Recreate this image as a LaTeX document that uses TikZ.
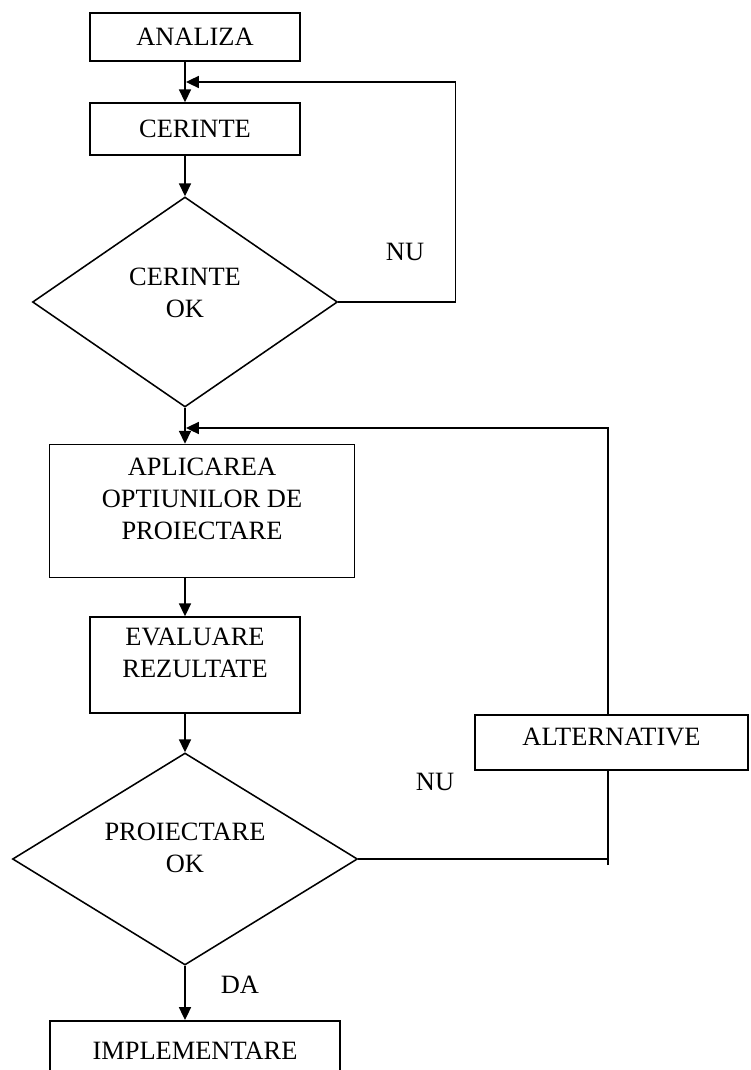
\documentclass[tikz,border=0pt]{standalone}
\usepackage{fontspec}
\setmainfont{Liberation Serif}
\usetikzlibrary{shapes.geometric,arrows.meta}
\begin{document}
\begin{tikzpicture}[x=0.025cm,y=-0.025cm,every node/.style={font=\fontsize{18.8}{22.8}\selectfont},>={Triangle[length=0.32cm,width=0.3cm]},line width=1.1pt]
\tikzset{box/.style={draw,align=center,inner sep=0pt}, test/.style={draw,diamond,inner sep=0pt}, lab/.style={inner sep=0pt,align=center}}
\useasboundingbox (0,0) rectangle (750,1070);
\node[box,minimum width=210*0.025cm,minimum height=48*0.025cm] (analiza) at (195,37) {ANALIZA};
\node[box,minimum width=210*0.025cm,minimum height=52*0.025cm] (cerinte) at (195,129) {CERINTE};
\node[test,minimum width=305*0.025cm,minimum height=210*0.025cm] (okcer) at (185,302) {};
\node[lab] (okcertext) at (185,293) {CERINTE\\OK};
\node[box,minimum width=305*0.025cm,minimum height=133*0.025cm,text depth=0.6cm] (aplic) at (202,511) {APLICAREA\\OPTIUNILOR DE\\PROIECTARE};
\node[box,minimum width=210*0.025cm,minimum height=96*0.025cm,text depth=0.6cm] (eval) at (195,665) {EVALUARE\\REZULTATE};
\node[test,minimum width=345*0.025cm,minimum height=212*0.025cm] (okproi) at (185,859) {};
\node[lab] (okproitext) at (185,848) {PROIECTARE\\OK};
\node[box,minimum width=273*0.025cm,minimum height=55*0.025cm,text depth=0.3cm] (alt) at (611.5,742.5) {ALTERNATIVE};
\node[box,minimum width=290*0.025cm,minimum height=60*0.025cm,anchor=north] (impl) at (195,1020) {IMPLEMENTARE};
\node[lab] (nucer) at (405,252) {NU};
\node[lab] (nuproi) at (435,782) {NU};
\node[lab] (da) at (240,985) {DA};
\coordinate (loopcer) at (186,82);
\coordinate (loopproi) at (186,428);
\coordinate (altfoot) at (608,865);
\draw[->] (analiza.south -| okcer.north) -- (cerinte.north -| okcer.north);
\draw[->] (cerinte.south -| okcer.north) -- (okcer.north);
\draw[->] (okcer.east) -- ++(117,0) |- (loopcer);
\draw[->] (okcer.south) -- (aplic.north -| okcer.south);
\draw[->] (aplic.south -| okcer.south) -- (eval.north -| okcer.south);
\draw[->] (eval.south -| okcer.south) -- (okproi.north);
\draw (okproi.east) -- (okproi.east -| altfoot);
\draw (altfoot) -- (altfoot |- alt.south);
\draw[->] (altfoot |- alt.north) |- (loopproi);
\draw[->] (okproi.south) -- (impl.north -| okproi.south);
\end{tikzpicture}
\end{document}
